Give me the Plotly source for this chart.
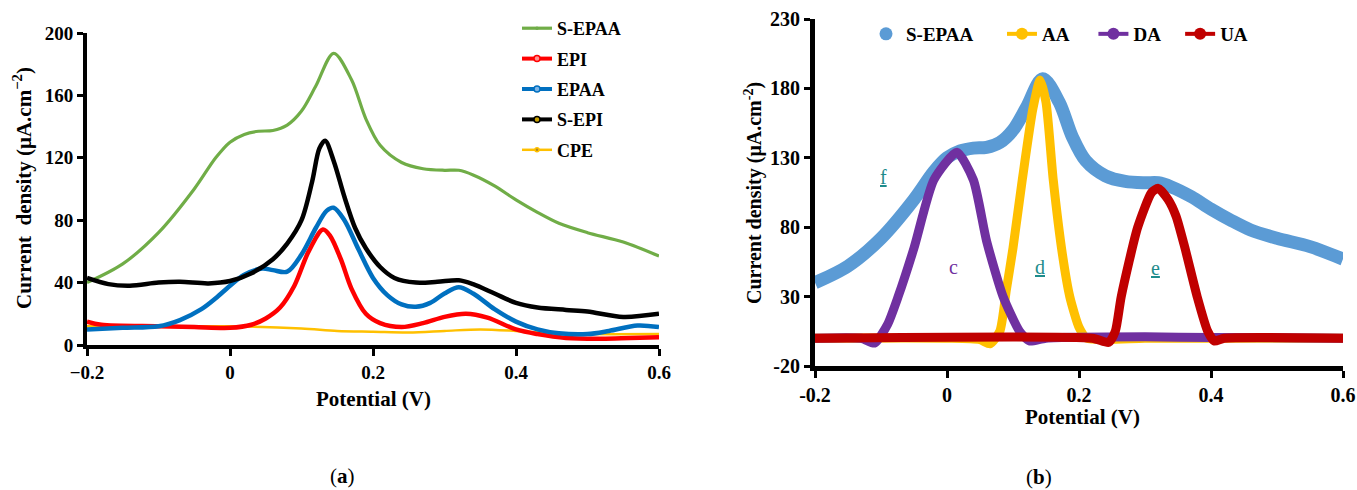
import plotly.graph_objects as go

W, H = 1357, 490

# ---------------- data: panel (a) ----------------
V_SEPAA = [-0.2, -0.15, -0.1, -0.05, -0.02, 0, 0.02, 0.04, 0.06, 0.08, 0.1, 0.12, 0.145, 0.17, 0.19, 0.21,
           0.24, 0.27, 0.3, 0.32, 0.34, 0.37, 0.4, 0.43, 0.46, 0.5, 0.55, 0.6]
I_SEPAA = [40, 52, 72, 100, 120, 130, 135, 137, 137.5, 141, 150, 166, 187, 170, 145, 128,
           117, 113, 112, 112, 109, 102, 93, 85, 78, 72, 66, 57]

V_EPI = [-0.2, -0.18, -0.1, -0.05, 0, 0.03, 0.05, 0.07, 0.09, 0.11, 0.13, 0.14, 0.155, 0.17, 0.19,
         0.21, 0.24, 0.27, 0.3, 0.33, 0.36, 0.4, 0.43, 0.47, 0.52, 0.56, 0.6]
I_EPI = [15, 13, 12, 11.5, 11, 13, 17, 24, 38, 60, 74, 70, 55, 36, 20,
         14, 11.5, 14, 18, 20, 17.5, 10, 7, 4.5, 4, 4.5, 5]

V_EPAA = [-0.2, -0.15, -0.1, -0.07, -0.04, -0.02, 0, 0.02, 0.045, 0.06, 0.08, 0.1, 0.12, 0.135, 0.145,
          0.16, 0.18, 0.2, 0.22, 0.24, 0.26, 0.28, 0.3, 0.32, 0.34, 0.37, 0.4, 0.43, 0.46, 0.5, 0.53,
          0.57, 0.6]
I_EPAA = [10, 11, 12, 16, 23, 30, 38, 45, 49, 48, 47, 58, 75, 86, 88,
          80, 61, 43, 32, 26, 24.5, 27, 33, 37, 33, 23, 15, 10, 7.5, 7, 9,
          12.5, 11.5]

V_SEPI = [-0.2, -0.17, -0.14, -0.1, -0.07, -0.03, 0, 0.03, 0.06, 0.08, 0.1, 0.115, 0.125, 0.133, 0.145, 0.16,
          0.175, 0.19, 0.21, 0.23, 0.26, 0.29, 0.32, 0.34, 0.37, 0.4, 0.43, 0.47, 0.5, 0.55, 0.6]
I_SEPI = [43, 39, 38, 40, 40.5, 39.5, 41, 46, 55, 65, 80, 105, 126, 131, 118, 95,
          75, 62, 50, 43, 40, 40.5, 41.5, 39, 33, 27, 24, 22.5, 21.5, 18, 20]

V_CPE = [-0.2, -0.1, 0, 0.1, 0.15, 0.2, 0.25, 0.3, 0.35, 0.4, 0.45, 0.5, 0.6]
I_CPE = [12, 12, 12, 10.5, 9, 8.5, 8, 9, 10, 9, 7.5, 7, 7]

# ---------------- data: panel (b) ----------------
V_AA = [-0.2, 0, 0.05, 0.065, 0.08, 0.09, 0.1, 0.114, 0.13, 0.141, 0.15, 0.161, 0.175, 0.186, 0.2,
        0.212, 0.3, 0.4, 0.6]
I_AA = [0, 0, -1, -4, 5, 35, 65, 114, 165, 186, 170, 114, 60, 30, 8,
        0, 0, 0, 0]

V_DA = [-0.2, -0.13, -0.11, -0.09, -0.074, -0.05, -0.02, 0.015, 0.04, 0.06, 0.085, 0.11, 0.125, 0.15,
        0.3, 0.4, 0.6]
I_DA = [0, 0, -3.5, 10, 30, 65, 114, 134, 114, 70, 30, 5, -2, 0,
        1, 0.5, 0]

V_UA = [-0.2, 0.22, 0.245, 0.255, 0.264, 0.289, 0.31, 0.32, 0.335, 0.347, 0.36, 0.379, 0.395, 0.405, 0.42, 0.6]
I_UA = [0, 0, -3, 5, 30, 80, 105, 108, 100, 88, 66, 30, 5, -2, 0, 0]

X_TICKS = [-0.2, 0, 0.2, 0.4, 0.6]
X_TICKTEXT_A = ["\u22120.2", "0", "0.2", "0.4", "0.6"]
X_TICKTEXT_B = ["-0.2", "0", "0.2", "0.4", "0.6"]
Y_TICKS_A = [0, 40, 80, 120, 160, 200]
Y_TICKS_B = [-20, 30, 80, 130, 180, 230]
Y_TICKTEXT_B = ["-20", "30", "80", "130", "180", "230"]

SERIF = "Liberation Serif"
NB = "\u00a0"


def pxx(x):
    return x / W


def pxy(y):
    return 1 - y / H


fig = go.Figure()

# panel (a) curves
series_a = [
    ("S-EPAA", V_SEPAA, I_SEPAA, "#70AD47", 3.2, 1),
    ("EPI", V_EPI, I_EPI, "#FF0000", 4.5, 5),
    ("EPAA", V_EPAA, I_EPAA, "#0070C0", 4.5, 5),
    ("S-EPI", V_SEPI, I_SEPI, "#000000", 4.5, 5),
    ("CPE", V_CPE, I_CPE, "#FFC000", 2.5, 3),
]
draw_order = ["CPE", "EPI", "EPAA", "S-EPAA", "S-EPI"]
lookup = {s[0]: s for s in series_a}
for nm in draw_order:
    name, xv, yv, col, lw, ms = lookup[nm]
    fig.add_trace(go.Scatter(x=xv, y=yv, mode="lines", line=dict(color=col, width=lw, shape="spline", smoothing=0.9),
                             xaxis="x", yaxis="y", showlegend=False, hoverinfo="skip"))
# legend entries (a)
inner = {"S-EPAA": "#5B8FD0", "EPI": "#FF9090", "EPAA": "#7FB5E6", "S-EPI": "#C8A000", "CPE": "#B08A20"}
for i, (name, xv, yv, col, lw, ms) in enumerate(series_a):
    fig.add_trace(go.Scatter(x=[None], y=[None], mode="lines+markers", name=name,
                             line=dict(color=col, width=min(lw, 4)),
                             marker=dict(color=inner[name], size=ms + 1, line=dict(color=col, width=1.5)),
                             xaxis="x", yaxis="y", legend="legend", legendgroup="a%d" % i))

# panel (b) curves
fig.add_trace(go.Scatter(x=V_SEPAA, y=I_SEPAA, mode="lines",
                         line=dict(color="#5B9BD5", width=13, shape="spline", smoothing=0.9),
                         xaxis="x2", yaxis="y2", showlegend=False, hoverinfo="skip"))
for xv, yv, col in [(V_AA, I_AA, "#FFC000"), (V_DA, I_DA, "#7030A0"), (V_UA, I_UA, "#C00000")]:
    fig.add_trace(go.Scatter(x=xv, y=yv, mode="lines",
                             line=dict(color=col, width=9, shape="spline", smoothing=0.6),
                             xaxis="x2", yaxis="y2", showlegend=False, hoverinfo="skip"))
# legend entries (b)
fig.add_trace(go.Scatter(x=[None], y=[None], mode="markers", name="S-EPAA" + NB * 5,
                         marker=dict(color="#5B9BD5", size=13), xaxis="x2", yaxis="y2", legend="legend2"))
for name, col, pad in [("AA", "#FFC000", 4), ("DA", "#7030A0", 3), ("UA", "#C00000", 0)]:
    fig.add_trace(go.Scatter(x=[None], y=[None], mode="lines+markers", name=name + NB * pad,
                             line=dict(color=col, width=4), marker=dict(color=col, size=12),
                             xaxis="x2", yaxis="y2", legend="legend2"))

axis_common = dict(showline=True, linecolor="black", ticks="outside", tickcolor="black",
                   showgrid=False, zeroline=False, fixedrange=True, automargin=False)

fig.update_layout(
    width=W, height=H,
    margin=dict(l=0, r=0, t=0, b=0, pad=0, autoexpand=False),
    paper_bgcolor="white", plot_bgcolor="white",
    font=dict(family=SERIF, color="black"),
    xaxis=dict(domain=[pxx(87), pxx(659)], range=[-0.2, 0.6], tickvals=X_TICKS, ticktext=X_TICKTEXT_A,
               anchor="y", linewidth=4, ticklen=7, tickwidth=3,
               tickfont=dict(family=SERIF, size=19, weight="bold"), **axis_common),
    yaxis=dict(domain=[pxy(345), pxy(33)], range=[0, 200], tickvals=Y_TICKS_A,
               anchor="x", linewidth=4, ticklen=6, tickwidth=3,
               tickfont=dict(family=SERIF, size=19, weight="bold"), **axis_common),
    xaxis2=dict(domain=[pxx(815), pxx(1343)], range=[-0.2, 0.6], tickvals=X_TICKS, ticktext=X_TICKTEXT_B,
                anchor="y2", linewidth=5, ticklen=7, tickwidth=3,
                tickfont=dict(family=SERIF, size=20, weight="bold"), **axis_common),
    yaxis2=dict(domain=[pxy(366), pxy(19)], range=[-20, 230], tickvals=Y_TICKS_B, ticktext=Y_TICKTEXT_B,
                anchor="x2", linewidth=5, ticklen=6, tickwidth=3,
                tickfont=dict(family=SERIF, size=20, weight="bold"), **axis_common),
    legend=dict(x=pxx(517), y=pxy(10), xanchor="left", yanchor="top", orientation="v",
                font=dict(family=SERIF, size=18, weight="bold", color="black"),
                bgcolor="rgba(0,0,0,0)", tracegroupgap=4, traceorder="grouped"),
    legend2=dict(x=pxx(866), y=pxy(15), xanchor="left", yanchor="top", orientation="h",
                 font=dict(family=SERIF, size=19, weight="bold", color="black"),
                 bgcolor="rgba(0,0,0,0)"),
    showlegend=True,
)

ann = []
# axis titles
ann.append(dict(text="Current  density (\u03bcA.cm<sup>\u22122</sup>)", x=pxx(23), y=pxy(188), textangle=-90,
                font=dict(family=SERIF, size=21, weight="bold")))
ann.append(dict(text="Potential (V)", x=pxx(373), y=pxy(399), font=dict(family=SERIF, size=21, weight="bold")))
ann.append(dict(text="Current density (\u03bcA.cm<sup>-2</sup>)", x=pxx(753), y=pxy(193), textangle=-90,
                font=dict(family=SERIF, size=20, weight="bold")))
ann.append(dict(text="Potential (V)", x=pxx(1082), y=pxy(417), font=dict(family=SERIF, size=21, weight="bold")))
# captions
ann.append(dict(text="(<b>a</b>)", x=pxx(342), y=pxy(476), font=dict(family=SERIF, size=21)))
ann.append(dict(text="(<b>b</b>)", x=pxx(1039), y=pxy(477), font=dict(family=SERIF, size=21)))
# peak labels
teal = "#1E8C8C"
ann.append(dict(text="<u>f</u>", x=pxx(884), y=pxy(177), font=dict(family=SERIF, size=20, color=teal)))
ann.append(dict(text="c", x=pxx(953), y=pxy(267), font=dict(family=SERIF, size=20, color="#7030A0")))
ann.append(dict(text="<u>d</u>", x=pxx(1040), y=pxy(267), font=dict(family=SERIF, size=20, color=teal)))
ann.append(dict(text="<u>e</u>", x=pxx(1155), y=pxy(268), font=dict(family=SERIF, size=20, color=teal)))
for a in ann:
    a.update(xref="paper", yref="paper", showarrow=False, xanchor="center", yanchor="middle")
fig.update_layout(annotations=ann)

fig.write_html("out.html")
